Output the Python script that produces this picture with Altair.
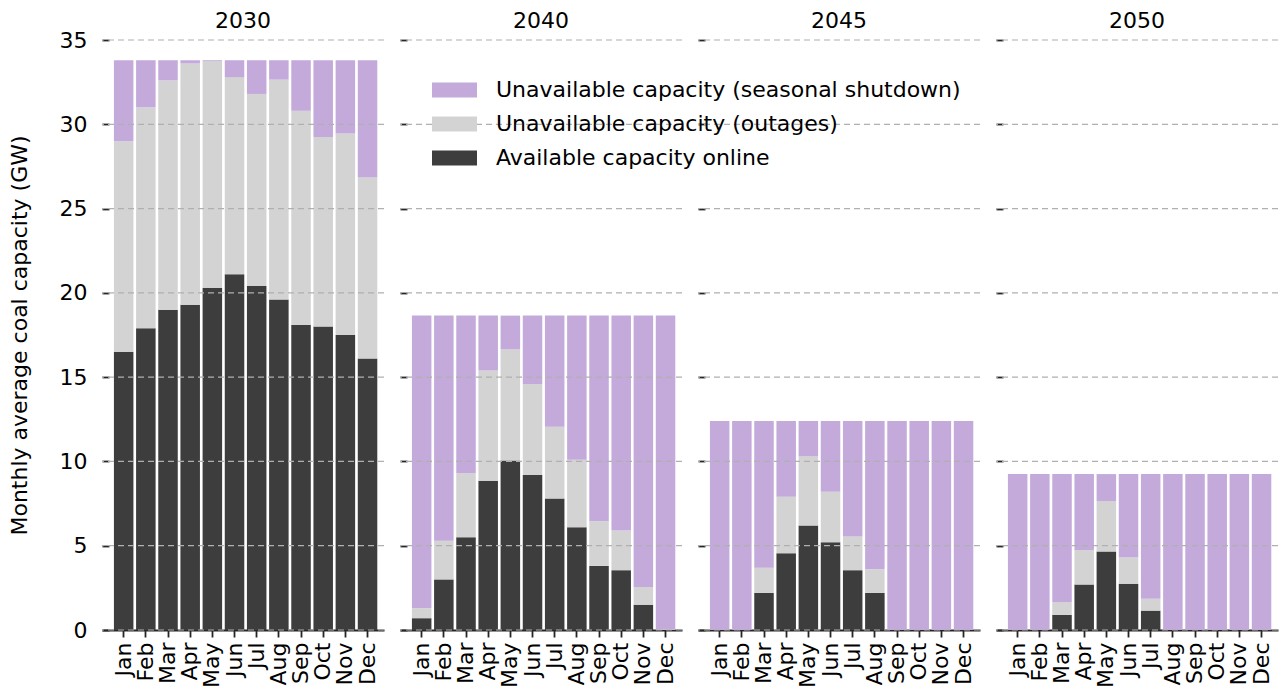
import altair as alt
import pandas as pd

months = ["Jan", "Feb", "Mar", "Apr", "May", "Jun", "Jul", "Aug", "Sep", "Oct", "Nov", "Dec"]
years = ["2030", "2040", "2045", "2050"]
categories = ["Unavailable capacity (seasonal shutdown)",
              "Unavailable capacity (outages)",
              "Available capacity online"]
colors = ["#c4aadb", "#d3d3d3", "#3d3d3d"]
y_ticks = [0, 5, 10, 15, 20, 25, 30, 35]

# Monthly average capacity (GW) per component
available_2030 = [16.5, 17.9, 19.0, 19.3, 20.3, 21.1, 20.4, 19.6, 18.1, 18.0, 17.5, 16.1]
outages_2030 = [12.5, 13.1, 13.6, 14.3, 13.45, 11.7, 11.4, 13.05, 12.7, 11.25, 11.95, 10.75]
shutdown_2030 = [4.8, 2.8, 1.2, 0.2, 0.05, 1.0, 2.0, 1.15, 3.0, 4.55, 4.35, 6.95]

available_2040 = [0.7, 3.0, 5.5, 8.85, 10.05, 9.2, 7.8, 6.1, 3.8, 3.55, 1.5, 0.0]
outages_2040 = [0.6, 2.3, 3.8, 6.55, 6.6, 5.4, 4.25, 4.0, 2.65, 2.35, 1.05, 0.05]
shutdown_2040 = [17.35, 13.35, 9.35, 3.25, 2.0, 4.05, 6.6, 8.55, 12.2, 12.75, 16.1, 18.6]

available_2045 = [0.0, 0.0, 2.2, 4.55, 6.2, 5.2, 3.55, 2.2, 0.0, 0.0, 0.0, 0.0]
outages_2045 = [0.0, 0.0, 1.5, 3.35, 4.1, 3.0, 2.0, 1.4, 0.0, 0.0, 0.0, 0.0]
shutdown_2045 = [12.4, 12.4, 8.7, 4.5, 2.1, 4.2, 6.85, 8.8, 12.4, 12.4, 12.4, 12.4]

available_2050 = [0.0, 0.0, 0.9, 2.7, 4.65, 2.75, 1.15, 0.0, 0.0, 0.0, 0.0, 0.0]
outages_2050 = [0.0, 0.0, 0.75, 2.05, 3.0, 1.55, 0.7, 0.0, 0.0, 0.0, 0.0, 0.0]
shutdown_2050 = [9.25, 9.25, 7.6, 4.5, 1.6, 4.95, 7.4, 9.25, 9.25, 9.25, 9.25, 9.25]

series = {
    "2030": (available_2030, outages_2030, shutdown_2030),
    "2040": (available_2040, outages_2040, shutdown_2040),
    "2045": (available_2045, outages_2045, shutdown_2045),
    "2050": (available_2050, outages_2050, shutdown_2050),
}

rows = []
for yr, (av, ou, sh) in series.items():
    for i, m in enumerate(months):
        rows.append({"year": yr, "month": m, "cat": categories[2], "value": av[i], "ord": 0})
        rows.append({"year": yr, "month": m, "cat": categories[1], "value": ou[i], "ord": 1})
        rows.append({"year": yr, "month": m, "cat": categories[0], "value": sh[i], "ord": 2})
df = pd.DataFrame(rows)
grid_df = pd.DataFrame({"v": y_ticks})

FONT = "DejaVu Sans"
FS = 22
W = 282
H = 590


def panel(yr, first):
    yaxis = alt.Axis(
        values=y_ticks,
        labels=first,
        title="Monthly average coal capacity (GW)" if first else "",
        domain=False,
        grid=False,
        tickSize=7,
        offset=-7,
        labelPadding=15,
        titlePadding=28,
    )
    xaxis = alt.Axis(
        title="",
        labelAngle=270,
        labelPadding=5,
        tickSize=7,
        grid=False,
        domain=True,
    )
    bars = (
        alt.Chart(df[df["year"] == yr])
        .mark_bar()
        .encode(
            x=alt.X("month:N", sort=months, axis=xaxis,
                    scale=alt.Scale(paddingInner=0.12, paddingOuter=0.42, align=0.64)),
            y=alt.Y("value:Q", stack="zero", axis=yaxis,
                    scale=alt.Scale(domain=[0, 35], nice=False)),
            color=alt.Color(
                "cat:N",
                scale=alt.Scale(domain=categories, range=colors),
                legend=alt.Legend(
                    orient="none",
                    legendX=330,
                    legendY=27.5,
                    title=None,
                    symbolType="M-1,-0.333L1,-0.333L1,0.333L-1,0.333Z",
                    symbolSize=2025,
                    symbolStrokeWidth=0,
                    labelFontSize=FS,
                    labelFont=FONT,
                    labelColor="#000000",
                    labelOffset=19,
                    labelLimit=700,
                    rowPadding=-3.5,
                    padding=0,
                ),
            ),
            order=alt.Order("ord:Q", sort="ascending"),
        )
    )
    grid = (
        alt.Chart(grid_df)
        .mark_rule(color="#b0b0b0", strokeDash=[6, 4], strokeWidth=1.2)
        .encode(y=alt.Y("v:Q"))
    )
    return alt.layer(bars, grid).properties(
        width=W,
        height=H,
        title=alt.TitleParams(yr, fontSize=FS, font=FONT, fontWeight="normal",
                              color="#000000", offset=-4 if first else 6,
                              anchor="middle", frame="group"),
    )


chart = (
    alt.hconcat(*[panel(y, i == 0) for i, y in enumerate(years)], spacing=16, bounds="flush")
    .resolve_scale(color="shared")
    .resolve_legend(color="shared")
    .properties(padding={"left": 0, "top": 2, "right": 0, "bottom": 0})
    .configure_view(strokeWidth=0)
    .configure_axis(
        domainColor="#262626",
        domainWidth=1.8,
        tickColor="#262626",
        tickWidth=1.8,
        labelColor="#000000",
        labelFont=FONT,
        labelFontSize=FS,
        titleFont=FONT,
        titleFontSize=FS,
        titleFontWeight="normal",
        titleColor="#000000",
    )
)

chart.save("out.html", embed_options={"renderer": "svg", "actions": False})
